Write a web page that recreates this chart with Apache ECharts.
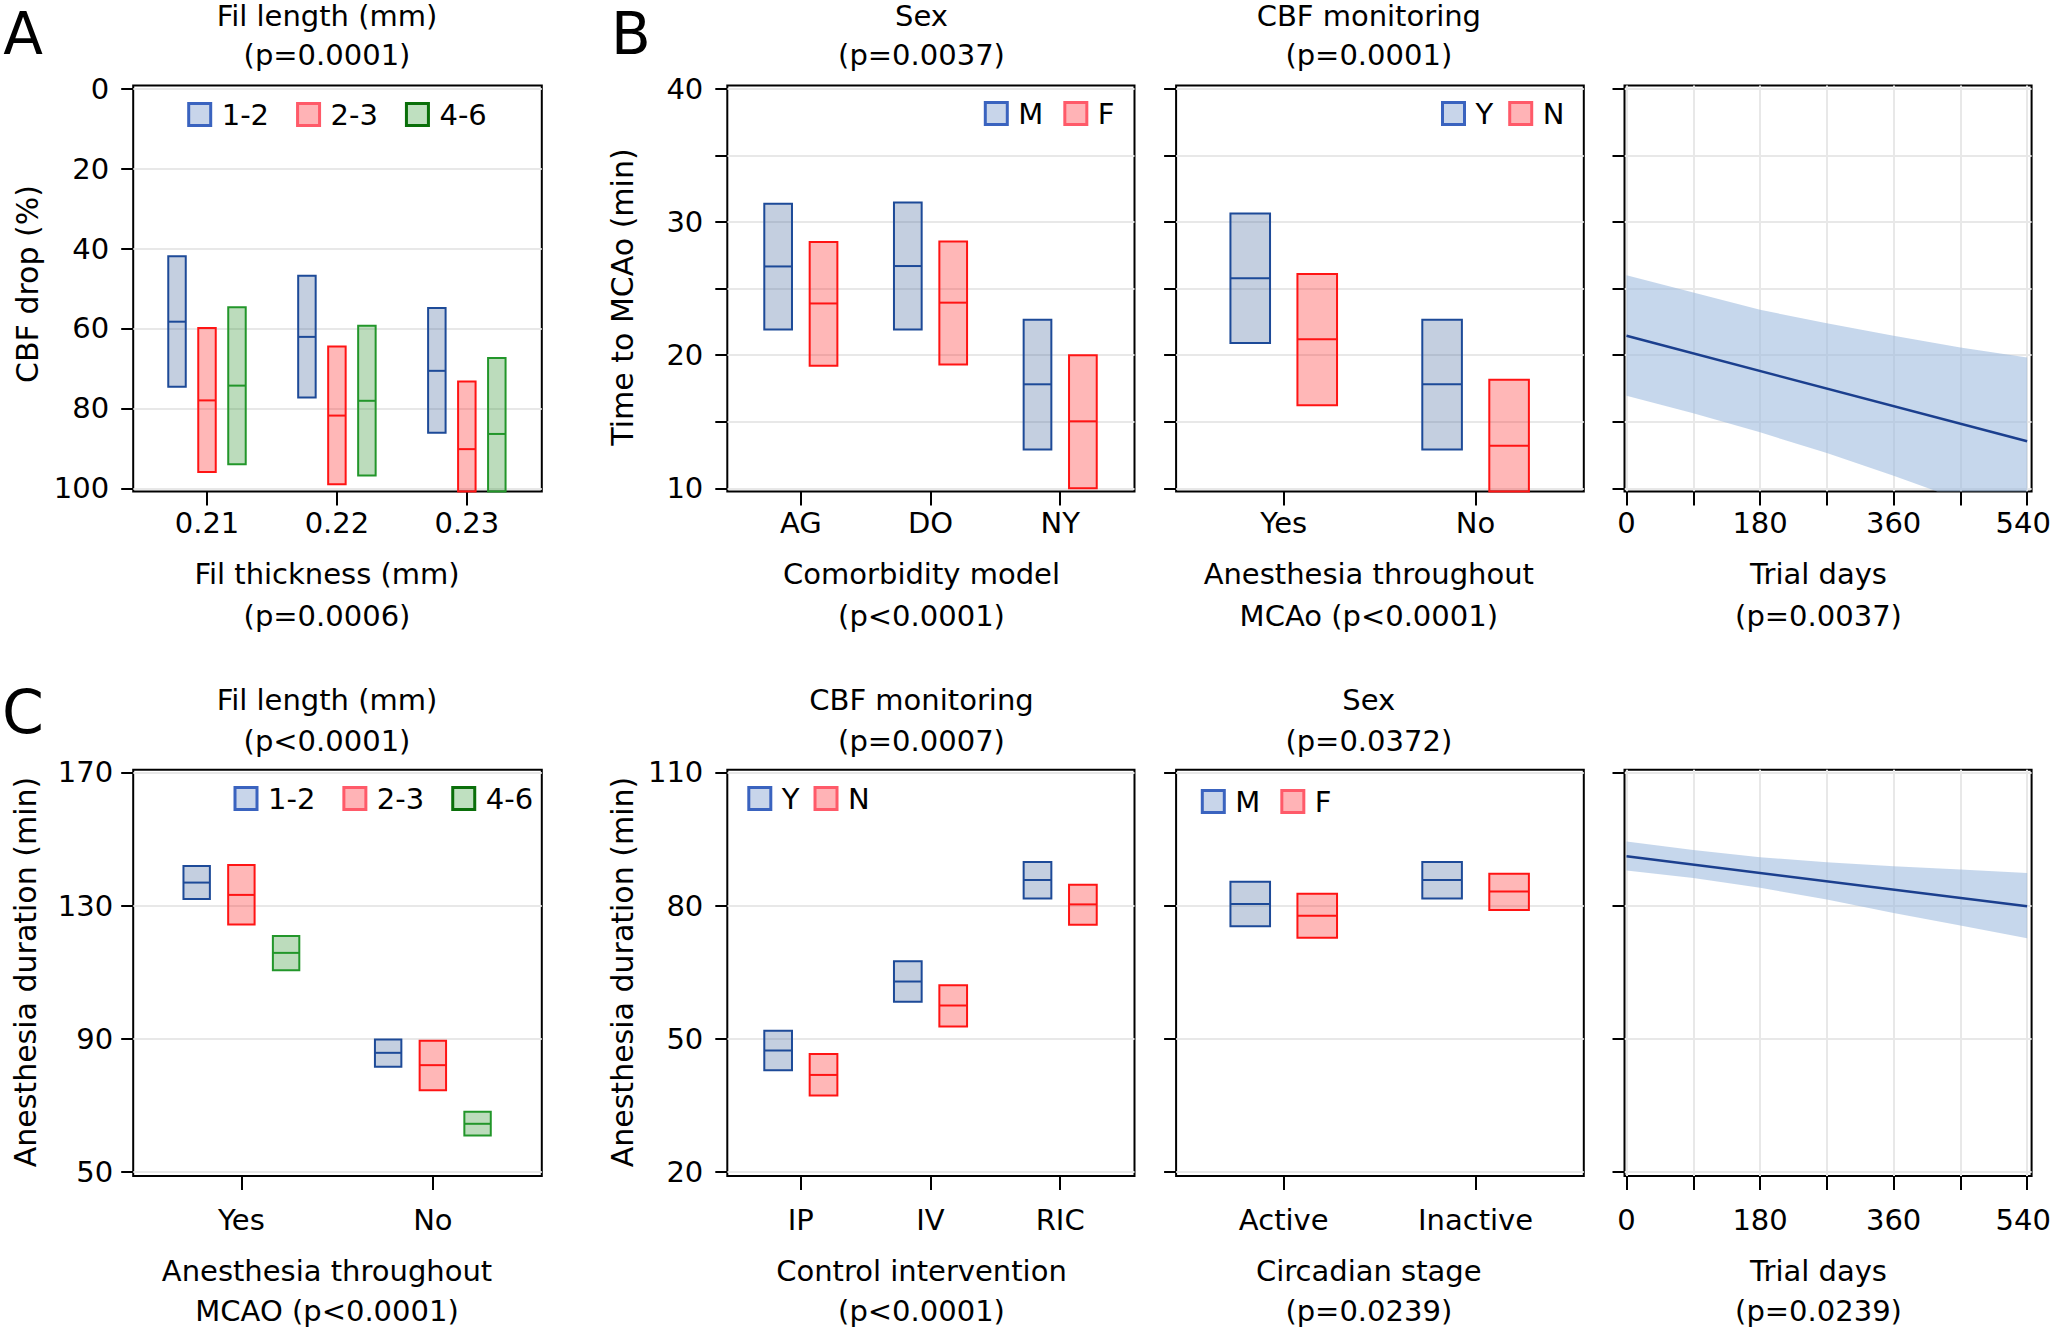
<!DOCTYPE html>
<html><head><meta charset="utf-8">
<script src="https://cdn.jsdelivr.net/npm/echarts@6/dist/echarts.min.js"></script>
<style>html,body{margin:0;padding:0;background:#fff}#c{width:2052px;height:1330px}</style>
</head><body><div id="c"></div>
<script>
// ---------------- DATA ----------------
// Panel A: CBF drop (%) by fil thickness and fil length  [low, median, high]
const A_thickness = ['0.21', '0.22', '0.23'];
const A_lengths = ['1-2', '2-3', '4-6'];
const A_len12 = [[41.9, 58.3, 74.6], [46.8, 62.1, 77.3], [54.9, 70.6, 86.1]];
const A_len23 = [[59.9, 78.0, 95.9], [64.5, 81.8, 99.0], [73.3, 90.2, 101]];
const A_len46 = [[54.7, 74.3, 94.0], [59.3, 78.1, 96.8], [67.4, 86.4, 101]];
const A_yTicks = [0, 20, 40, 60, 80, 100];

// Panel B: Time to MCAo (min)
const B_models = ['AG', 'DO', 'NY'];
const B_sexes = ['M', 'F'];
const B_male = [[21.92, 26.66, 31.37], [21.92, 26.69, 31.46], [12.91, 17.81, 22.65]];
const B_female = [[19.2, 23.88, 28.5], [19.3, 23.94, 28.53], [10.0, 15.03, 20.0]];
const B_anesthesia = ['Yes', 'No'];
const B_cbfGroups = ['Y', 'N'];
const B_cbfY = [[20.91, 25.78, 30.64], [12.91, 17.81, 22.65]];
const B_cbfN = [[16.23, 21.2, 26.09], [9.5, 13.2, 18.16]];
const B_trendDays = [0, 540];
const B_trendFit = [21.45, 13.53];
const B_bandDays = [0, 90, 180, 270, 360, 450, 540];
const B_bandUpper = [26.0, 24.7, 23.4, 22.4, 21.45, 20.58, 19.83];
const B_bandLower = [16.95, 15.63, 14.2, 12.65, 10.95, 9.12, 7.23];
const B_yTicks = [10, 15, 20, 25, 30, 35, 40];
const B_yLabels = [10, 20, 30, 40];

// Panel C: Anesthesia duration (min)
const C_anesthesia = ['Yes', 'No'];
const C_lengths = ['1-2', '2-3', '4-6'];
const C_len12 = [[131.97, 136.9, 141.85], [81.6, 85.8, 89.8]];
const C_len23 = [[124.3, 133.2, 142.2], [74.6, 82.1, 89.4]];
const C_len46 = [[110.6, 115.8, 120.9], [61.0, 64.5, 68.1]];
const C1_yTicks = [50, 90, 130, 170];
const C_controls = ['IP', 'IV', 'RIC'];
const C_cbfGroups = ['Y', 'N'];
const C_cbfY = [[42.9, 47.37, 51.83], [58.35, 62.9, 67.45], [81.59, 85.75, 89.83]];
const C_cbfN = [[37.24, 41.87, 46.6], [52.77, 57.5, 62.05], [75.7, 80.26, 84.7]];
const C_circadian = ['Active', 'Inactive'];
const C_sexes = ['M', 'F'];
const C_male = [[75.33, 80.35, 85.37], [81.59, 85.75, 89.83]];
const C_female = [[72.77, 77.7, 82.63], [79.0, 83.19, 87.17]];
const C_trendDays = [0, 540];
const C_trendFit = [91.1, 79.85];
const C_bandDays = [0, 90, 180, 270, 360, 450, 540];
const C_bandUpper = [94.4, 92.5, 90.9, 89.75, 88.85, 88.1, 87.35];
const C_bandLower = [87.9, 86.2, 84.0, 81.35, 78.35, 75.5, 72.65];
const C_yTicks = [20, 50, 80, 110];

const dayTicks = [0, 90, 180, 270, 360, 450, 540];
const dayLabels = [0, 180, 360, 540];

// ---------------- STYLE ----------------
const FONT = "'DejaVu Sans', sans-serif";
const GRIDC = '#e8e8e8';
const TICKFS = 29;
const BOX = {
  blue:  {fill: 'rgba(58,95,152,0.30)',  stroke: '#1d4a98'},
  red:   {fill: 'rgba(255,18,18,0.30)',  stroke: '#ff1414'},
  green: {fill: 'rgba(32,138,32,0.30)',  stroke: '#22962a'}
};
const LEGSTYLE = {
  blue:  {color: '#c8d5ea', borderColor: '#3a63bf', borderWidth: 3},
  red:   {color: '#ffb3b6', borderColor: '#ff5a69', borderWidth: 3},
  green: {color: '#bfe0c0', borderColor: '#0a6f0a', borderWidth: 3}
};
const BANDCOLOR = 'rgba(151,182,220,0.55)';
const FITCOLOR = '#1b3f8e';

const grids = [], xAxes = [], yAxes = [], series = [], legends = [], graphics = [];

function addGrid(g) {
  const gi = grids.length;
  grids.push({left: g.left, top: g.top, width: g.width, height: g.height, show: true,
    borderColor: '#000', borderWidth: 2, backgroundColor: 'rgba(0,0,0,0)', outerBoundsMode: 'none', containLabel: false});
  xAxes.push({
    gridIndex: gi, type: 'value', min: g.xmin, max: g.xmax, position: 'bottom',
    axisLine: {show: false, onZero: false},
    axisTick: {show: true, inside: false, length: 14, lineStyle: {color: '#000', width: 2}, customValues: g.xTicks},
    axisLabel: {show: true, customValues: g.xLabels, formatter: g.xFmt, margin: g.xMargin,
      fontSize: TICKFS, fontFamily: FONT, color: '#000',
      rich: {edge: {fontSize: TICKFS, fontFamily: FONT, color: '#000', padding: [0, 8, 0, 0]}}},
    splitLine: {show: !!g.xGrid, lineStyle: {color: GRIDC, width: 2}}
  });
  yAxes.push({
    gridIndex: gi, type: 'value', min: g.ymin, max: g.ymax, inverse: !!g.inverse, position: 'left',
    axisLine: {show: false, onZero: false},
    axisTick: {show: true, inside: false, length: 12, lineStyle: {color: '#000', width: 2}, customValues: g.yTicks},
    axisLabel: {show: !!g.yLabels, customValues: g.yLabels || [], margin: g.yMargin || 24,
      fontSize: TICKFS, fontFamily: FONT, color: '#000'},
    splitLine: {show: true, lineStyle: {color: GRIDC, width: 2}}
  });
  return gi;
}

function boxSeries(name, gi, vals, offset, width, col) {
  return {
    type: 'custom', name: name, xAxisIndex: gi, yAxisIndex: gi,
    data: vals.map((v, i) => [i, v[0], v[1], v[2]]),
    encode: {x: 0, y: [1, 2, 3]},
    itemStyle: {color: col.fill, borderColor: col.stroke},
    z: 3, silent: true,
    renderItem: function (params, api) {
      const xc = api.value(0) + offset;
      const a = api.coord([xc - width / 2, api.value(3)]);
      const b = api.coord([xc + width / 2, api.value(1)]);
      const m = api.coord([xc, api.value(2)]);
      const cs = params.coordSys;
      const clamp = y => Math.max(cs.y, Math.min(cs.y + cs.height, y));
      const y1 = clamp(Math.min(a[1], b[1])), y2 = clamp(Math.max(a[1], b[1]));
      const x1 = Math.min(a[0], b[0]), x2 = Math.max(a[0], b[0]);
      return {type: 'group', children: [
        {type: 'rect', shape: {x: x1, y: y1, width: x2 - x1, height: y2 - y1},
          style: {fill: col.fill, stroke: col.stroke, lineWidth: 2}},
        {type: 'line', shape: {x1: x1, y1: m[1], x2: x2, y2: m[1]},
          style: {stroke: col.stroke, lineWidth: 2}}
      ]};
    }
  };
}

// Sutherland-Hodgman clipping of a polygon to a rectangle (pixel space)
function clipPoly(pts, r) {
  const edges = [
    [p => p[0] >= r.x, (a, b) => { const t = (r.x - a[0]) / (b[0] - a[0]); return [r.x, a[1] + t * (b[1] - a[1])]; }],
    [p => p[0] <= r.x + r.width, (a, b) => { const X = r.x + r.width; const t = (X - a[0]) / (b[0] - a[0]); return [X, a[1] + t * (b[1] - a[1])]; }],
    [p => p[1] >= r.y, (a, b) => { const t = (r.y - a[1]) / (b[1] - a[1]); return [a[0] + t * (b[0] - a[0]), r.y]; }],
    [p => p[1] <= r.y + r.height, (a, b) => { const Y = r.y + r.height; const t = (Y - a[1]) / (b[1] - a[1]); return [a[0] + t * (b[0] - a[0]), Y]; }]
  ];
  let out = pts;
  for (const [inside, inter] of edges) {
    const inp = out; out = [];
    for (let i = 0; i < inp.length; i++) {
      const cur = inp[i], prev = inp[(i + inp.length - 1) % inp.length];
      const ci = inside(cur), pi = inside(prev);
      if (ci) { if (!pi) out.push(inter(prev, cur)); out.push(cur); }
      else if (pi) out.push(inter(prev, cur));
    }
    if (!out.length) break;
  }
  return out;
}

function trendSeries(gi, fitDays, fit, bandDays, upper, lower) {
  series.push({
    type: 'custom', xAxisIndex: gi, yAxisIndex: gi, silent: true, z: 2,
    data: bandDays.map((d, i) => [d, lower[i], upper[i]]),
    encode: {x: 0, y: [1, 2]},
    renderItem: function (params, api) {
      if (params.dataIndex !== 0) return null;
      const pts = [];
      for (let i = 0; i < bandDays.length; i++) pts.push(api.coord([bandDays[i], upper[i]]));
      for (let i = bandDays.length - 1; i >= 0; i--) pts.push(api.coord([bandDays[i], lower[i]]));
      const poly = clipPoly(pts, params.coordSys);
      return {type: 'polygon', shape: {points: poly}, style: {fill: BANDCOLOR, stroke: null}};
    }
  });
  series.push({type: 'line', xAxisIndex: gi, yAxisIndex: gi, silent: true,
    data: fitDays.map((d, i) => [d, fit[i]]), symbol: 'none', lineStyle: {color: FITCOLOR, width: 2.5}, z: 4});
}

function addLegend(names, colors, left, top, gap) {
  legends.push({left: left, top: top, orient: 'horizontal', padding: 0, itemWidth: 22, itemHeight: 22,
    itemGap: gap, selectedMode: false,
    textStyle: {fontSize: 29, fontFamily: FONT, color: '#000', padding: [0, 0, 0, 6]},
    data: names.map((n, i) => ({name: n, icon: 'rect', itemStyle: LEGSTYLE[colors[i]]}))});
}

function txt(str, x, y, size, rot) {
  graphics.push({type: 'text', x: x, y: y, rotation: rot || 0, silent: true,
    style: {text: str, fontSize: size, fontFamily: FONT, fill: '#000',
      textAlign: 'center', textVerticalAlign: 'middle', align: 'center', verticalAlign: 'middle'}});
}

const catFmt = cats => (v => cats[Math.round(v)] || '');
// last day label is nudged inward so it stays inside the page
const dayFmt = v => (v === dayLabels[dayLabels.length - 1] ? '{edge|' + v + '}' : String(v));

// ---------------- PANELS ----------------
const ROW1 = {top: 85.4, height: 406.2};
const ROW2 = {top: 769.8, height: 406.1};
const COLS = [{left: 133.2, width: 408.6}, {left: 727.3, width: 407.2}, {left: 1176.1, width: 407.7}, {left: 1624.5, width: 407.1}];

// A
let gi = addGrid({left: COLS[0].left, width: COLS[0].width, top: ROW1.top, height: ROW1.height,
  xmin: -0.568, xmax: 2.577, xTicks: [0, 1, 2], xLabels: [0, 1, 2], xFmt: catFmt(A_thickness), xMargin: 17,
  ymin: -0.85, ymax: 100.83, inverse: true, yTicks: A_yTicks, yLabels: A_yTicks, yMargin: 24});
series.push(boxSeries(A_lengths[0], gi, A_len12, -0.2308, 0.1346, BOX.blue));
series.push(boxSeries(A_lengths[1], gi, A_len23, 0, 0.1346, BOX.red));
series.push(boxSeries(A_lengths[2], gi, A_len46, 0.2308, 0.1346, BOX.green));

// B1
gi = addGrid({left: COLS[1].left, width: COLS[1].width, top: ROW1.top, height: ROW1.height,
  xmin: -0.567, xmax: 2.573, xTicks: [0, 1, 2], xLabels: [0, 1, 2], xFmt: catFmt(B_models), xMargin: 17,
  ymin: 9.752, ymax: 40.255, yTicks: B_yTicks, yLabels: B_yLabels, yMargin: 24});
series.push(boxSeries(B_sexes[0], gi, B_male, -0.175, 0.2136, BOX.blue));
series.push(boxSeries(B_sexes[1], gi, B_female, 0.175, 0.2136, BOX.red));

// B2
gi = addGrid({left: COLS[2].left, width: COLS[2].width, top: ROW1.top, height: ROW1.height,
  xmin: -0.561, xmax: 1.564, xTicks: [0, 1], xLabels: [0, 1], xFmt: catFmt(B_anesthesia), xMargin: 17,
  ymin: 9.752, ymax: 40.255, yTicks: B_yTicks, yLabels: null});
series.push(boxSeries(B_cbfGroups[0], gi, B_cbfY, -0.1746, 0.2064, BOX.blue));
series.push(boxSeries(B_cbfGroups[1], gi, B_cbfN, 0.1746, 0.2064, BOX.red));

// B3
gi = addGrid({left: COLS[3].left, width: COLS[3].width, top: ROW1.top, height: ROW1.height,
  xmin: -2.7, xmax: 546, xTicks: dayTicks, xLabels: dayLabels, xFmt: dayFmt, xMargin: 17, xGrid: true,
  ymin: 9.752, ymax: 40.255, yTicks: B_yTicks, yLabels: null});
trendSeries(gi, B_trendDays, B_trendFit, B_bandDays, B_bandUpper, B_bandLower);

// C1
gi = addGrid({left: COLS[0].left, width: COLS[0].width, top: ROW2.top, height: ROW2.height,
  xmin: -0.565, xmax: 1.569, xTicks: [0, 1], xLabels: [0, 1], xFmt: catFmt(C_anesthesia), xMargin: 30,
  ymin: 48.86, ymax: 170.75, yTicks: C1_yTicks, yLabels: C1_yTicks, yMargin: 20});
series.push(boxSeries(C_lengths[0], gi, C_len12, -0.2335, 0.138, BOX.blue));
series.push(boxSeries(C_lengths[1], gi, C_len23, 0, 0.138, BOX.red));
series.push(boxSeries(C_lengths[2], gi, C_len46, 0.2335, 0.138, BOX.green));

// C2
gi = addGrid({left: COLS[1].left, width: COLS[1].width, top: ROW2.top, height: ROW2.height,
  xmin: -0.567, xmax: 2.573, xTicks: [0, 1, 2], xLabels: [0, 1, 2], xFmt: catFmt(C_controls), xMargin: 30,
  ymin: 19.14, ymax: 110.56, yTicks: C_yTicks, yLabels: C_yTicks, yMargin: 24});
series.push(boxSeries(C_cbfGroups[0], gi, C_cbfY, -0.175, 0.2136, BOX.blue));
series.push(boxSeries(C_cbfGroups[1], gi, C_cbfN, 0.175, 0.2136, BOX.red));

// C3
gi = addGrid({left: COLS[2].left, width: COLS[2].width, top: ROW2.top, height: ROW2.height,
  xmin: -0.561, xmax: 1.564, xTicks: [0, 1], xLabels: [0, 1], xFmt: catFmt(C_circadian), xMargin: 30,
  ymin: 19.14, ymax: 110.56, yTicks: C_yTicks, yLabels: null});
series.push(boxSeries(C_sexes[0], gi, C_male, -0.1746, 0.2064, BOX.blue));
series.push(boxSeries(C_sexes[1], gi, C_female, 0.1746, 0.2064, BOX.red));

// C4
gi = addGrid({left: COLS[3].left, width: COLS[3].width, top: ROW2.top, height: ROW2.height,
  xmin: -2.7, xmax: 546, xTicks: dayTicks, xLabels: dayLabels, xFmt: dayFmt, xMargin: 30, xGrid: true,
  ymin: 19.14, ymax: 110.56, yTicks: C_yTicks, yLabels: null});
trendSeries(gi, C_trendDays, C_trendFit, C_bandDays, C_bandUpper, C_bandLower);

// Legends
addLegend(A_lengths, ['blue', 'red', 'green'], 187.2, 100, 27);
addLegend(B_sexes, ['blue', 'red'], 983.8, 99, 20);
addLegend(B_cbfGroups, ['blue', 'red'], 1441, 99, 15);
addLegend(C_lengths, ['blue', 'red', 'green'], 233.5, 784, 27);
addLegend(C_cbfGroups, ['blue', 'red'], 747.3, 784, 14);
addLegend(C_sexes, ['blue', 'red'], 1200.8, 787, 20);

// Texts: panel letters
txt('A', 23, 34, 58);
txt('B', 631, 34, 58);
txt('C', 23, 712, 60);
// Column centres for titles
const TX = [327, 921.5, 1368.8, 1818.5];
const TS = 29;
// Row 1 top titles
txt('Fil length (mm)', TX[0], 16, TS); txt('(p=0.0001)', TX[0], 55, TS);
txt('Sex', TX[1], 16, TS); txt('(p=0.0037)', TX[1], 55, TS);
txt('CBF monitoring', TX[2], 16, TS); txt('(p=0.0001)', TX[2], 55, TS);
// Row 1 bottom titles
txt('Fil thickness (mm)', TX[0], 574, TS); txt('(p=0.0006)', TX[0], 616, TS);
txt('Comorbidity model', TX[1], 574, TS); txt('(p<0.0001)', TX[1], 616, TS);
txt('Anesthesia throughout', TX[2], 574, TS); txt('MCAo (p<0.0001)', TX[2], 616, TS);
txt('Trial days', TX[3], 574, TS); txt('(p=0.0037)', TX[3], 616, TS);
// Row 2 top titles
txt('Fil length (mm)', TX[0], 700, TS); txt('(p<0.0001)', TX[0], 741, TS);
txt('CBF monitoring', TX[1], 700, TS); txt('(p=0.0007)', TX[1], 741, TS);
txt('Sex', TX[2], 700, TS); txt('(p=0.0372)', TX[2], 741, TS);
// Row 2 bottom titles
txt('Anesthesia throughout', TX[0], 1271, TS); txt('MCAO (p<0.0001)', TX[0], 1311, TS);
txt('Control intervention', TX[1], 1271, TS); txt('(p<0.0001)', TX[1], 1311, TS);
txt('Circadian stage', TX[2], 1271, TS); txt('(p=0.0239)', TX[2], 1311, TS);
txt('Trial days', TX[3], 1271, TS); txt('(p=0.0239)', TX[3], 1311, TS);
// Y axis titles (rotated)
txt('CBF drop (%)', 27, 284, 30, Math.PI / 2);
txt('Time to MCAo (min)', 622.5, 297, 30, Math.PI / 2);
txt('Anesthesia duration (min)', 25, 972, 30, Math.PI / 2);
txt('Anesthesia duration (min)', 622.5, 972, 30, Math.PI / 2);

const chart = echarts.init(document.getElementById('c'), null, {renderer: 'svg', width: 2052, height: 1330});
chart.setOption({
  animation: false,
  backgroundColor: '#fff',
  textStyle: {fontFamily: FONT},
  grid: grids, xAxis: xAxes, yAxis: yAxes, series: series, legend: legends, graphic: graphics
});
</script>
</body></html>
